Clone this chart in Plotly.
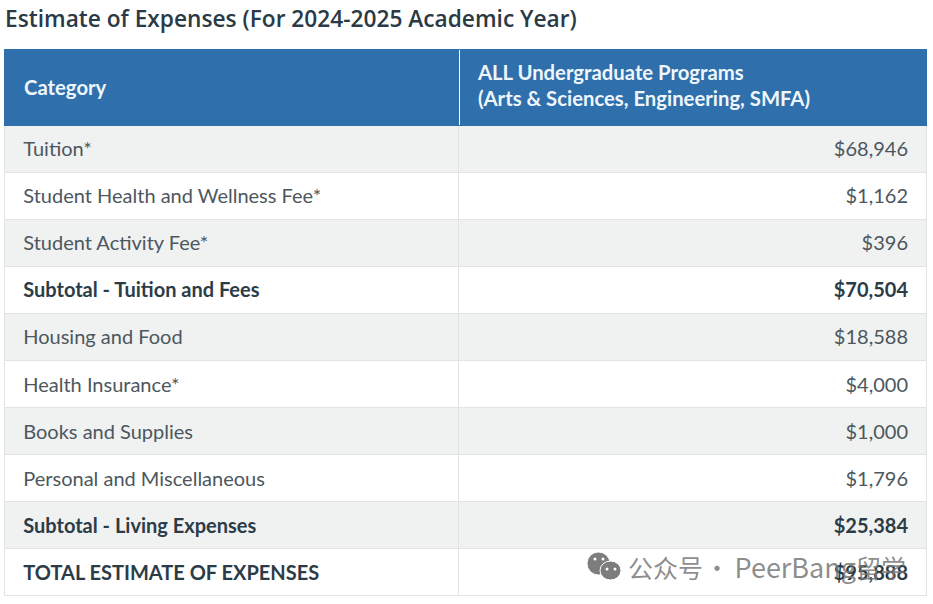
import plotly.graph_objects as go

W = 933
H = 604

# table content
categories = [
    "Tuition*",
    "Student Health and Wellness Fee*",
    "Student Activity Fee*",
    "<b>Subtotal - Tuition and Fees</b>",
    "Housing and Food",
    "Health Insurance*",
    "Books and Supplies",
    "Personal and Miscellaneous",
    "<b>Subtotal - Living Expenses</b>",
    "<b>TOTAL ESTIMATE OF EXPENSES</b>",
]
amounts = [
    "$68,946",
    "$1,162",
    "$396",
    "<b>$70,504</b>",
    "$18,588",
    "$4,000",
    "$1,000",
    "$1,796",
    "<b>$25,384</b>",
    "<b>$95,888</b>",
]
header_left = "<b>Category</b>"
header_right = ["<b>ALL Undergraduate Programs</b>", "<b>(Arts &amp; Sciences, Engineering, SMFA)</b>"]
title = "Estimate of Expenses (For 2024-2025 Academic Year)"
watermark = "公众号\u200a·\u2009<span style='font-size:27px'>PeerBang</span>留学"

BLUE = "#2f6fab"
GREY = "#f0f1f1"
row_fill = [GREY, "#ffffff"] * 5
row_color = ["#2c3c47" if c.startswith("<b>") else "#4c575e" for c in categories]
LPAD = "\u2002\u200a"  # plotly's cell padding is fixed, so push text in with spaces
RPAD = "\u2002"
CLEAR = "rgba(0,0,0,0)"
ROW_H = 47.1


def span(s):
    # tagged text gets the same vertical placement in every row
    return "<span>" + s + "</span>"


def dom(top, bottom):
    return dict(x=[4 / W, 927 / W], y=[1 - bottom / H, 1 - top / H])


# fills and rules
fig = go.Figure(
    go.Table(
        domain=dom(49, 598),
        columnwidth=[455, 468],
        header=dict(values=["", ""], fill_color=BLUE, line=dict(color=BLUE, width=1), height=76),
        cells=dict(
            values=[[""] * 10, [""] * 10],
            fill_color=[row_fill, row_fill],
            line=dict(color="#e2e4e4", width=1),
            height=ROW_H,
        ),
    )
)

# text, same table nudged down because cell text sits high
fig.add_trace(
    go.Table(
        domain=dom(52, 601),
        columnwidth=[455, 468],
        header=dict(
            values=["", LPAD + header_right[0] + "<br>" + LPAD + header_right[1]],
            fill_color=CLEAR,
            line=dict(color=CLEAR, width=0),
            align="left",
            height=76,
            font=dict(family="Lato", size=20.3, color="#eef6fb"),
        ),
        cells=dict(
            values=[[span(LPAD + c) for c in categories], [span(a + RPAD) for a in amounts]],
            fill_color=CLEAR,
            line=dict(color=CLEAR, width=0),
            align=["left", "right"],
            height=ROW_H,
            font=dict(family="Lato", size=20, color=[row_color, row_color]),
        ),
    )
)

# white divider in the header
fig.add_shape(type="line", xref="paper", yref="paper", x0=459.5 / W, x1=459.5 / W,
              y0=1 - 125 / H, y1=1 - 50 / H, line=dict(color="#ffffff", width=1))

# Category is centred in its cell, the table can't do that
fig.add_annotation(text=header_left, xref="paper", yref="paper", x=22 / W, y=1 - 87 / H,
                   xanchor="left", yanchor="middle", showarrow=False,
                   font=dict(family="Lato", size=20.3, color="#eef6fb"))

fig.add_annotation(text=title, xref="paper", yref="paper", x=3 / W, y=1 - 18 / H,
                   xanchor="left", yanchor="middle", showarrow=False,
                   font=dict(family="Open Sans", size=22.7, weight=600, color="#2a3a46"))

# wechat mark + watermark
for x0, y0, x1, y1 in [(587, 552, 610, 575), (600, 561, 621, 580)]:
    fig.add_shape(type="circle", xref="paper", yref="paper", x0=x0 / W, x1=x1 / W,
                  y0=1 - y1 / H, y1=1 - y0 / H, layer="above",
                  fillcolor="#7d7d7d", line=dict(color="#ffffff", width=1))
for cx, cy in [(595, 559), (603, 559), (607, 569), (615, 569)]:
    fig.add_shape(type="circle", xref="paper", yref="paper", x0=(cx - 1.5) / W, x1=(cx + 1.5) / W,
                  y0=1 - (cy + 1.5) / H, y1=1 - (cy - 1.5) / H, layer="above",
                  fillcolor="#ffffff", line=dict(width=0))
fig.add_annotation(text=watermark, xref="paper", yref="paper", x=626 / W, y=1 - 566 / H,
                   xanchor="left", yanchor="middle", showarrow=False,
                   font=dict(family="Noto Sans CJK SC", size=25, color="rgba(120,120,120,0.85)"))

fig.update_layout(width=W, height=H, margin=dict(l=0, r=0, t=0, b=0),
                  paper_bgcolor="#ffffff")

fig.write_html("out.html", config=dict(displayModeBar=False),
               post_script="document.body.style.margin='0';")
